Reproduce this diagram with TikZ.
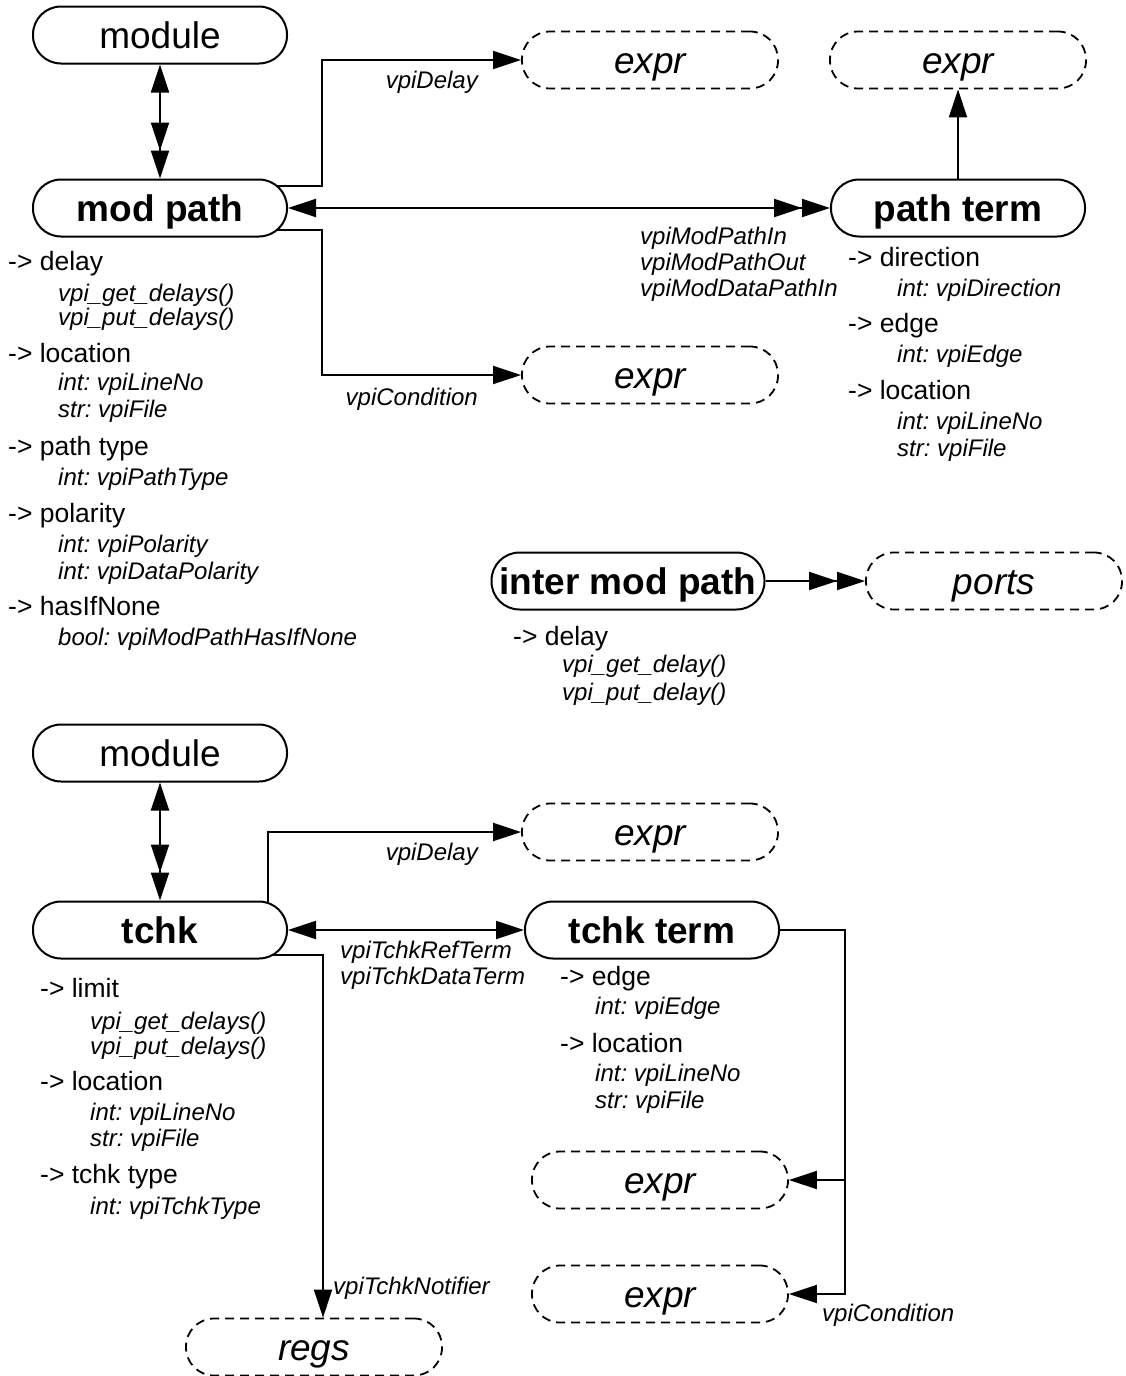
\documentclass[tikz,border=0pt]{standalone}
\usepackage{fontspec}
\setmainfont{Liberation Sans}
\usetikzlibrary{arrows.meta,backgrounds}
\frenchspacing
\begin{document}
\begin{tikzpicture}[x=1pt,y=-1pt,
  >={Triangle[length=28pt,width=18pt]},
  obj/.style={draw,line width=2pt,fill=white,rounded corners=28pt,minimum width=254pt,minimum height=57pt,inner sep=0pt,text height=26pt,text depth=0pt,font=\fontsize{37}{40}\selectfont\bfseries},
  objn/.style={obj,font=\fontsize{37}{40}\selectfont},
  refbox/.style={draw,line width=1.8pt,dash pattern=on 9pt off 6pt,fill=white,rounded corners=28pt,minimum width=256pt,minimum height=57pt,inner sep=0pt,text height=26pt,text depth=0pt,font=\fontsize{37}{40}\selectfont\itshape},
  hdr/.style={anchor=west,inner sep=0pt,text height=19pt,text depth=0pt,font=\fontsize{26.5}{30}\selectfont},
  sub/.style={anchor=west,inner sep=0pt,text height=17pt,text depth=0pt,font=\fontsize{24}{28}\selectfont\itshape},
  lbl/.style={inner sep=0pt,text height=17pt,text depth=0pt,font=\fontsize{24}{28}\selectfont\itshape},
  conn/.style={line width=2pt},
]
\useasboundingbox (0,0) rectangle (1125,1376);

% ---------- top part ----------
\node[objn] (mod1) at (160,35) {module};
\node[obj] (mp) at (160,208) {mod path};
\node[refbox] (e1) at (650,60) {expr};
\node[refbox] (e2) at (958,60) {expr};
\node[obj] (pt) at (958,208) {path term};
\node[refbox] (e3) at (650,375) {expr};

\node[lbl,anchor=east] (lD1) at (478,80) {vpiDelay};
\node[lbl,anchor=west] (lIn) at (640,236) {vpiModPathIn};
\node[lbl,anchor=west] (lOut) at (640,262) {vpiModPathOut};
\node[lbl,anchor=west] (lDIn) at (640,288) {vpiModDataPathIn};
\node[lbl,anchor=east] (lC1) at (478,397) {vpiCondition};

\node[hdr] (a1) at (8,261) {-> delay};
\node[sub] (a2) at (58,293) {vpi\_get\_delays()};
\node[sub] (a3) at (58,317) {vpi\_put\_delays()};
\node[hdr] (a4) at (8,353) {-> location};
\node[sub] (a5) at (58,382) {int: vpiLineNo};
\node[sub] (a6) at (58,409) {str: vpiFile};
\node[hdr] (a7) at (8,446) {-> path type};
\node[sub] (a8) at (58,477) {int: vpiPathType};
\node[hdr] (a9) at (8,513) {-> polarity};
\node[sub] (a10) at (58,544) {int: vpiPolarity};
\node[sub] (a11) at (58,571) {int: vpiDataPolarity};
\node[hdr] (a12) at (8,606) {-> hasIfNone};
\node[sub] (a13) at (58,637) {bool: vpiModPathHasIfNone};

\node[hdr] (b1) at (848,257) {-> direction};
\node[sub] (b2) at (897,288) {int: vpiDirection};
\node[hdr] (b3) at (848,323) {-> edge};
\node[sub] (b4) at (897,354) {int: vpiEdge};
\node[hdr] (b5) at (848,390) {-> location};
\node[sub] (b6) at (897,421) {int: vpiLineNo};
\node[sub] (b7) at (897,448) {str: vpiFile};

% ---------- inter mod path ----------
\node[obj,minimum width=273pt] (imp) at (628,581) {inter mod path};
\node[refbox] (ports) at (994,581) {ports};
\node[hdr] (c1) at (513,636) {-> delay};
\node[sub] (c2) at (562,664) {vpi\_get\_delay()};
\node[sub] (c3) at (562,692) {vpi\_put\_delay()};

% ---------- bottom part ----------
\node[objn] (mod2) at (160,753) {module};
\node[obj] (tk) at (160,930) {tchk};
\node[refbox] (e4) at (650,832) {expr};
\node[obj] (tt) at (652,930) {tchk term};
\node[refbox] (e5) at (660,1180) {expr};
\node[refbox] (e6) at (660,1294) {expr};
\node[refbox] (regs) at (314,1347) {regs};

\node[lbl,anchor=east] (lD2) at (478,852) {vpiDelay};
\node[lbl,anchor=west] (lRef) at (340,950) {vpiTchkRefTerm};
\node[lbl,anchor=west] (lData) at (340,976) {vpiTchkDataTerm};
\node[lbl,anchor=west] (lC2) at (822,1313) {vpiCondition};
\node[lbl,anchor=west] (lNot) at (333,1286) {vpiTchkNotifier};

\node[hdr] (d1) at (40,988) {-> limit};
\node[sub] (d2) at (90,1021) {vpi\_get\_delays()};
\node[sub] (d3) at (90,1046) {vpi\_put\_delays()};
\node[hdr] (d4) at (40,1081) {-> location};
\node[sub] (d5) at (90,1112) {int: vpiLineNo};
\node[sub] (d6) at (90,1138) {str: vpiFile};
\node[hdr] (d7) at (40,1174) {-> tchk type};
\node[sub] (d8) at (90,1206) {int: vpiTchkType};

\node[hdr] (f1) at (560,976) {-> edge};
\node[sub] (f2) at (595,1006) {int: vpiEdge};
\node[hdr] (f3) at (560,1043) {-> location};
\node[sub] (f4) at (595,1073) {int: vpiLineNo};
\node[sub] (f5) at (595,1100) {str: vpiFile};

% ---------- connectors ----------
\coordinate (dA) at (322,186);
\coordinate (cA) at (322,230);
\coordinate (tD) at (268,832);
\coordinate (tR) at (845,930);
\coordinate (tN) at (323,955);
\begin{scope}[on background layer]
\draw[conn,<->>] (mod1) -- (mp);
\draw[conn,->] (mp.center |- dA) -- (dA) |- (e1.west);
\draw[conn,->] (mp.center |- cA) -- (cA) |- (e3.west);
\draw[conn,<->>] (mp) -- (pt);
\draw[conn,->] (pt) -- (e2);
\draw[conn,->>] (imp) -- (ports);
\draw[conn,<->>] (mod2) -- (tk);
\draw[conn,->] (tk.center -| tD) -- (tD) -- (e4.west);
\draw[conn,<->] (tk) -- (tt);
\draw[conn,->] (tt) -- (tR) |- (e6.east);
\draw[conn,->] (tR |- e5.east) -- (e5.east);
\draw[conn,->] (tk.center |- tN) -- (tN) -- (regs.north -| tN);
\end{scope}
\end{tikzpicture}
\end{document}
